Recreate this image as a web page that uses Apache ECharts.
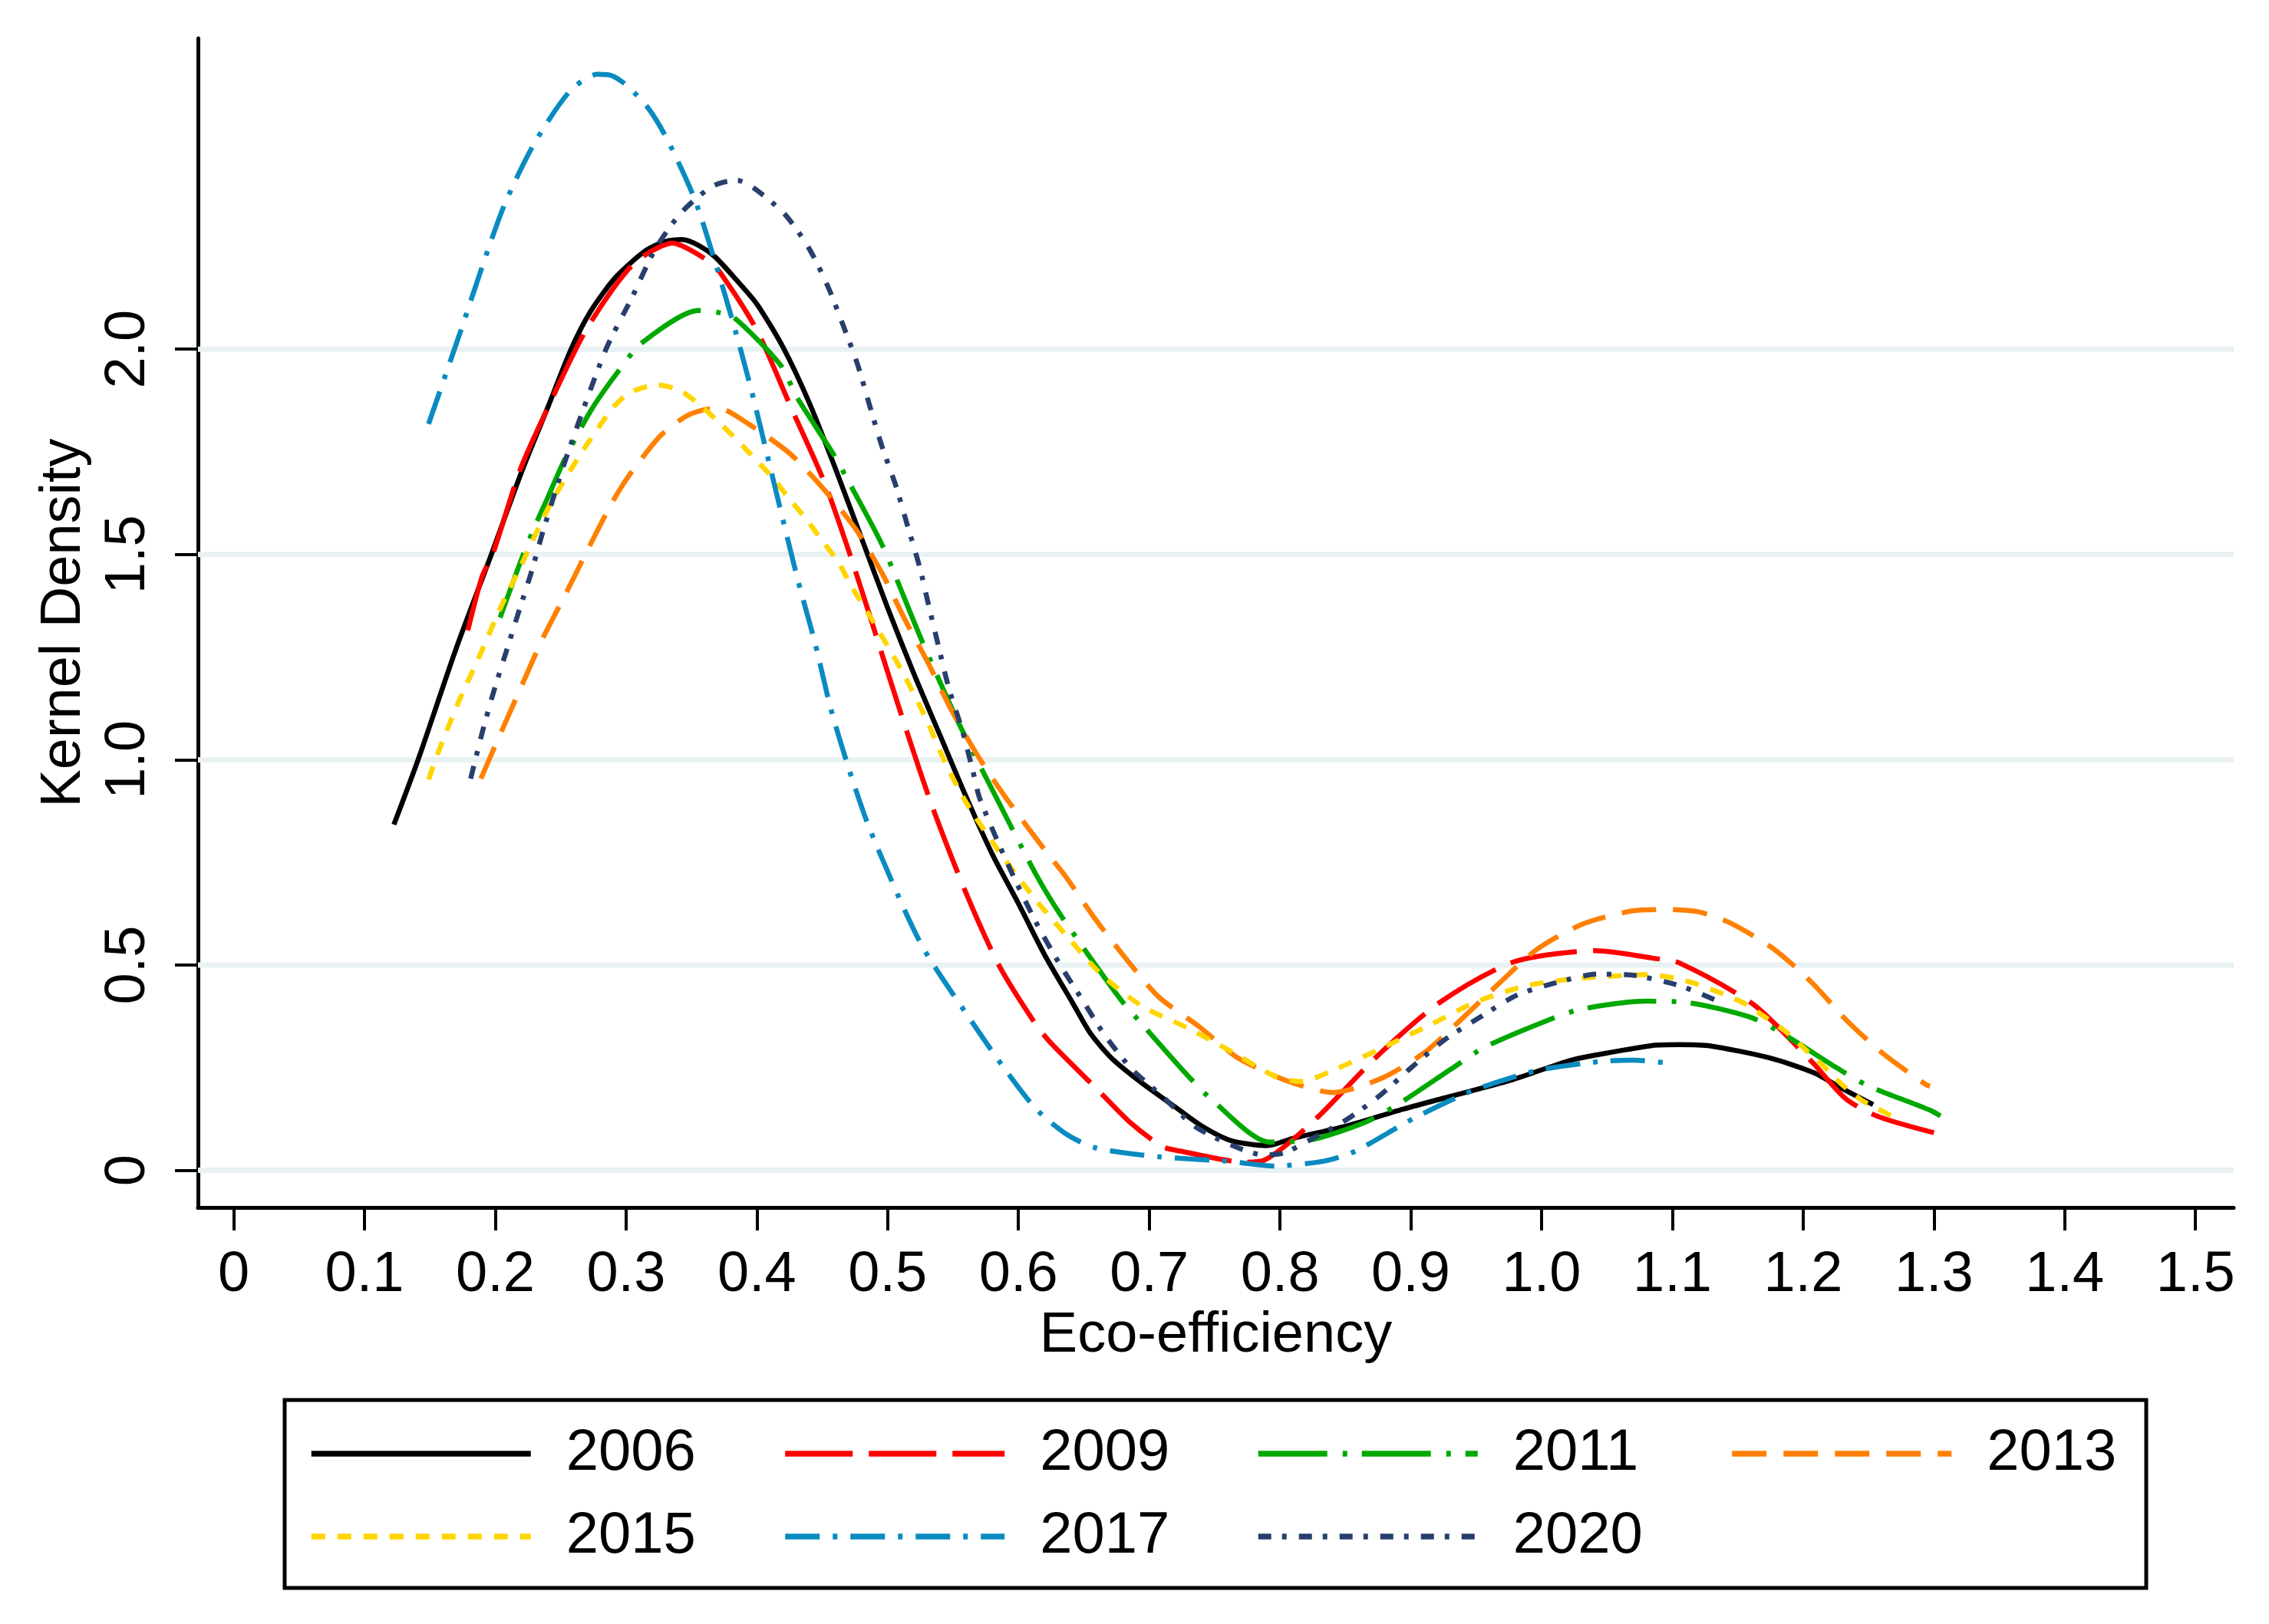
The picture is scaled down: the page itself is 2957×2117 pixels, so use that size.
<!DOCTYPE html>
<html>
<head>
<meta charset="utf-8">
<script src="https://cdn.jsdelivr.net/npm/echarts@6/dist/echarts.min.js"></script>
<style>
html,body{margin:0;padding:0;background:#ffffff;}
#chart{width:2957px;height:2117px;}
</style>
</head>
<body>
<div id="chart"></div>
<script>
// ---------- data ----------
const years = ['2006', '2009', '2011', '2013', '2015', '2017', '2020'];

const d2006 = [[0.1225,0.842],[0.141,1.0],[0.170,1.27],[0.197,1.50],[0.220,1.70],[0.240,1.857],[0.258,2.00],[0.2725,2.09],[0.292,2.175],[0.315,2.24],[0.330,2.262],[0.343,2.267],[0.356,2.252],[0.368,2.225],[0.384,2.17],[0.400,2.11],[0.420,2.005],[0.440,1.87],[0.460,1.71],[0.480,1.54],[0.500,1.37],[0.520,1.21],[0.540,1.06],[0.560,0.91],[0.580,0.77],[0.600,0.65],[0.620,0.525],[0.6414,0.408],[0.6554,0.332],[0.6723,0.270],[0.6947,0.212],[0.720,0.154],[0.7396,0.109],[0.762,0.073],[0.790,0.060],[0.810,0.078],[0.852,0.109],[0.894,0.149],[0.936,0.185],[0.978,0.221],[1.020,0.266],[1.040,0.280],[1.0845,0.304],[1.105,0.306],[1.129,0.303],[1.174,0.274],[1.208,0.238],[1.230,0.199],[1.2535,0.160]];

const d2009 = [[0.179,1.315],[0.190,1.447],[0.198,1.50],[0.219,1.706],[0.240,1.856],[0.270,2.05],[0.3054,2.207],[0.3355,2.258],[0.363,2.215],[0.3721,2.186],[0.3997,2.048],[0.4259,1.86],[0.452,1.673],[0.4735,1.478],[0.4932,1.282],[0.5128,1.087],[0.5338,0.889],[0.560,0.675],[0.585,0.50],[0.6134,0.355],[0.626,0.306],[0.6625,0.19],[0.686,0.115],[0.710,0.058],[0.7243,0.0465],[0.7733,0.020],[0.7874,0.024],[0.828,0.127],[0.873,0.274],[0.922,0.4085],[0.978,0.507],[1.0413,0.535],[1.0845,0.517],[1.1058,0.5045],[1.162,0.404],[1.2069,0.2635],[1.2327,0.174],[1.2574,0.131],[1.300,0.0915]];

const d2011 = [[0.2037,1.346],[0.2213,1.499],[0.232,1.581],[0.2398,1.636],[0.253,1.731],[0.273,1.85],[0.2936,1.944],[0.312,2.015],[0.3551,2.094],[0.3696,2.090],[0.3826,2.077],[0.418,1.962],[0.431,1.881],[0.4586,1.744],[0.4717,1.6685],[0.496,1.522],[0.5259,1.292],[0.5547,1.087],[0.5861,0.889],[0.6134,0.721],[0.633,0.6185],[0.6779,0.4174],[0.6962,0.350],[0.7298,0.2296],[0.7495,0.167],[0.7915,0.069],[0.8224,0.0733],[0.8659,0.118],[0.8912,0.1627],[0.9333,0.252],[0.9571,0.301],[1.0034,0.3638],[1.0295,0.392],[1.0807,0.412],[1.1081,0.410],[1.1586,0.374],[1.1833,0.335],[1.226,0.249],[1.2496,0.206],[1.2978,0.1454],[1.309,0.124]];

const d2013 = [[0.189,0.954],[0.1988,1.026],[0.2203,1.181],[0.236,1.2935],[0.2536,1.4025],[0.2712,1.5146],[0.2888,1.6236],[0.3027,1.694],[0.3263,1.789],[0.345,1.835],[0.359,1.852],[0.3708,1.856],[0.3931,1.819],[0.4259,1.744],[0.452,1.656],[0.4762,1.559],[0.4958,1.454],[0.5128,1.344],[0.5311,1.235],[0.5481,1.125],[0.5678,1.0155],[0.5887,0.915],[0.6205,0.779],[0.6358,0.717],[0.6583,0.614],[0.6821,0.516],[0.7074,0.422],[0.7382,0.350],[0.7677,0.274],[0.807,0.216],[0.8407,0.1895],[0.8785,0.2254],[0.9108,0.2877],[0.9403,0.3728],[0.9683,0.4576],[0.9964,0.538],[1.0315,0.600],[1.0688,0.6317],[1.0935,0.6353],[1.1193,0.630],[1.144,0.603],[1.1777,0.5387],[1.2069,0.4565],[1.2327,0.367],[1.2608,0.285],[1.2933,0.210],[1.297,0.205]];

const d2015 = [[0.149,0.952],[0.1577,1.029],[0.1724,1.144],[0.188,1.253],[0.2037,1.368],[0.2203,1.477],[0.2268,1.522],[0.2425,1.625],[0.266,1.748],[0.2896,1.856],[0.3027,1.894],[0.3237,1.913],[0.342,1.898],[0.3578,1.860],[0.3735,1.8145],[0.3892,1.7645],[0.4127,1.685],[0.4237,1.640],[0.439,1.581],[0.4473,1.5445],[0.4625,1.481],[0.4709,1.430],[0.4892,1.335],[0.5102,1.2205],[0.5285,1.106],[0.5442,0.992],[0.560,0.896],[0.5866,0.77],[0.6133,0.6587],[0.6386,0.5648],[0.6639,0.4755],[0.6947,0.3995],[0.7298,0.346],[0.7635,0.288],[0.7958,0.2296],[0.8154,0.2163],[0.8435,0.2476],[0.880,0.301],[0.915,0.3548],[0.9487,0.4085],[0.9866,0.4486],[1.0244,0.4665],[1.0621,0.4744],[1.0811,0.4765],[1.1014,0.4686],[1.1193,0.453],[1.1384,0.430],[1.1552,0.4064],[1.1721,0.3707],[1.1878,0.335],[1.2024,0.292],[1.2159,0.2526],[1.2294,0.2098],[1.245,0.1704],[1.2619,0.1418],[1.2709,0.1266]];

const d2017 = [[0.149,1.818],[0.1744,2.052],[0.1901,2.202],[0.2072,2.353],[0.2294,2.4985],[0.2569,2.628],[0.2779,2.6695],[0.2896,2.6654],[0.3014,2.640],[0.3172,2.586],[0.3315,2.511],[0.3525,2.365],[0.3682,2.211],[0.3826,2.056],[0.3957,1.902],[0.4075,1.748],[0.4193,1.593],[0.4316,1.435],[0.4447,1.282],[0.4565,1.125],[0.4709,0.9725],[0.4871,0.825],[0.5258,0.5497],[0.5663,0.353],[0.590,0.245],[0.6133,0.150],[0.6358,0.090],[0.6583,0.0553],[0.7074,0.033],[0.7593,0.0224],[0.7958,0.0107],[0.8337,0.0224],[0.8575,0.0465],[0.9024,0.127],[0.9473,0.194],[0.9964,0.243],[1.0455,0.2655],[1.0704,0.2683],[1.0965,0.2612]];

const d2020 = [[0.1812,0.954],[0.190,1.066],[0.1988,1.166],[0.2086,1.2655],[0.2184,1.365],[0.2281,1.462],[0.2369,1.561],[0.2556,1.748],[0.2844,1.998],[0.3041,2.123],[0.3224,2.244],[0.342,2.332],[0.3643,2.394],[0.3748,2.407],[0.3853,2.411],[0.397,2.394],[0.421,2.33],[0.4398,2.246],[0.4543,2.153],[0.466,2.058],[0.4771,1.962],[0.4863,1.862],[0.4956,1.764],[0.5062,1.668],[0.5154,1.568],[0.5246,1.468],[0.5311,1.380],[0.539,1.275],[0.5469,1.173],[0.5574,1.068],[0.5652,0.9725],[0.5704,0.906],[0.592,0.745],[0.6133,0.605],[0.6316,0.502],[0.6485,0.4174],[0.6653,0.3324],[0.6864,0.2476],[0.710,0.1805],[0.734,0.109],[0.7607,0.0643],[0.7873,0.0376],[0.8028,0.042],[0.8224,0.0733],[0.8505,0.1226],[0.8757,0.1805],[0.901,0.252],[0.9263,0.319],[0.9529,0.3728],[0.981,0.4264],[1.0118,0.4576],[1.0427,0.478],[1.0643,0.4765],[1.0749,0.473],[1.1063,0.449],[1.1362,0.410]];

const seriesData = [d2006, d2009, d2011, d2013, d2015, d2017, d2020];

const xTicks = [0, 0.1, 0.2, 0.3, 0.4, 0.5, 0.6, 0.7, 0.8, 0.9, 1.0, 1.1, 1.2, 1.3, 1.4, 1.5];
const yTicks = [0, 0.5, 1.0, 1.5, 2.0];
const xRange = [-0.0273, 1.5292];
const yRange = [-0.0904, 2.757];

// ---------- styles ----------
const colors = ['#000000', '#ff0000', '#00a800', '#ff8000', '#ffd500', '#0a8bc0', '#283f6d'];
const dashes = ['solid', [88, 21], [90, 20, 6, 19], [45, 22], [18, 16], [45, 17, 6, 17], [17, 14, 6, 16]];
const FONT = '"Liberation Sans", Arial, Helvetica, sans-serif';
const legendCols = [402, 1019.5, 1636, 2253.5];
const legendRows = [1895, 2003];

const fmt = v => (Math.abs(v) < 1e-9 ? '0' : v.toFixed(1));

const gridSeries = yTicks.map(v => ({
  name: 'grid' + v,
  type: 'line',
  data: [[xRange[0], v], [xRange[1], v]],
  symbol: 'none',
  silent: true,
  z: 1,
  lineStyle: { color: '#e9f1f3', width: 7, type: 'solid' },
  emphasis: { disabled: true },
  animation: false
}));

const curveSeries = years.map((y, i) => ({
  name: y,
  type: 'line',
  data: seriesData[i],
  symbol: 'none',
  showSymbol: false,
  smooth: 0.25,
  z: 3 + i,
  lineStyle: { color: colors[i], width: 6.5, type: dashes[i], cap: 'butt', join: 'round' },
  itemStyle: { color: colors[i] },
  emphasis: { disabled: true },
  animation: false
}));

const legends = years.map((y, i) => ({
  data: [y],
  left: legendCols[i % 4],
  top: legendRows[Math.floor(i / 4)] - 38,
  padding: 0,
  itemWidth: 286,
  itemHeight: 12,
  selectedMode: false,
  itemStyle: { opacity: 0, borderWidth: 0 },
  lineStyle: { width: 7.5 },
  textStyle: { fontSize: 76, lineHeight: 76, fontFamily: FONT, color: '#000', padding: [0, 0, 0, 41] }
}));

const option = {
  backgroundColor: '#ffffff',
  animation: false,
  grid: { left: 258, right: 46, top: 50, bottom: 543, containLabel: false },
  xAxis: {
    type: 'value',
    min: xRange[0],
    max: xRange[1],
    name: 'Eco-efficiency',
    nameLocation: 'middle',
    nameGap: 126,
    nameTextStyle: { fontSize: 74, fontFamily: FONT, color: '#000' },
    axisLine: { show: true, onZero: false, lineStyle: { color: '#000', width: 5 } },
    axisTick: { show: true, length: 30, customValues: xTicks, lineStyle: { color: '#000', width: 4 } },
    axisLabel: { show: true, customValues: xTicks, formatter: fmt, fontSize: 74, fontFamily: FONT, color: '#000', margin: 52 },
    splitLine: { show: false }
  },
  yAxis: {
    type: 'value',
    min: yRange[0],
    max: yRange[1],
    name: 'Kernel Density',
    nameLocation: 'middle',
    nameGap: 137,
    nameRotate: 90,
    nameTextStyle: { fontSize: 74, fontFamily: FONT, color: '#000' },
    axisLine: { show: true, onZero: false, lineStyle: { color: '#000', width: 5 } },
    axisTick: { show: true, length: 30, customValues: yTicks, lineStyle: { color: '#000', width: 4 } },
    axisLabel: { show: true, customValues: yTicks, formatter: fmt, rotate: 90, fontSize: 74, fontFamily: FONT, color: '#000', margin: 53 },
    splitLine: { show: false }
  },
  legend: legends,
  graphic: [{
    type: 'rect',
    shape: { x: 371, y: 1825, width: 2426, height: 245 },
    style: { fill: 'none', stroke: '#000', lineWidth: 5 },
    silent: true
  }],
  series: gridSeries.concat(curveSeries)
};

const chart = echarts.init(document.getElementById('chart'), null, { renderer: 'canvas' });
chart.setOption(option);
</script>
</body>
</html>
